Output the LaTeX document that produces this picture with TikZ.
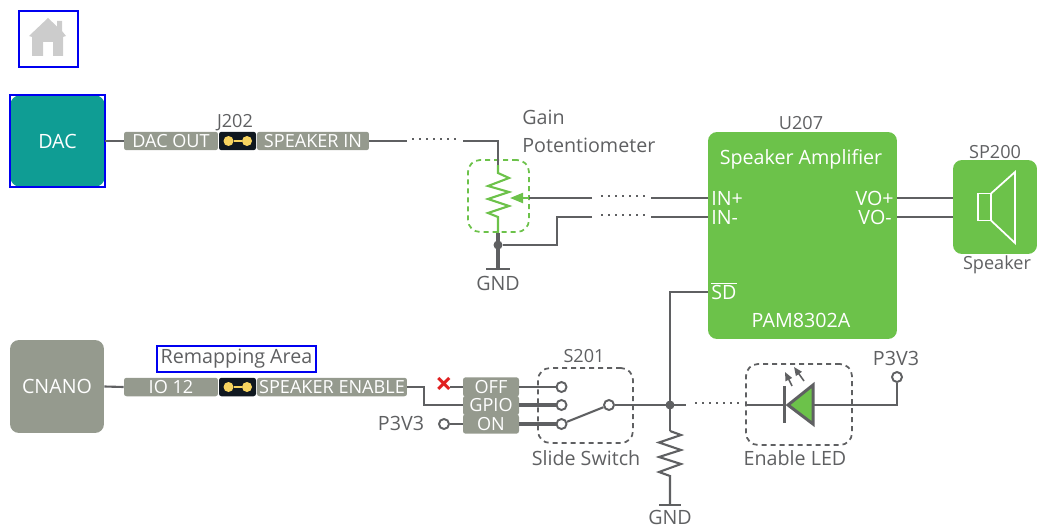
\documentclass[tikz,border=0pt]{standalone}
\usepackage{fontspec}
\setsansfont{Open Sans}
\usetikzlibrary{arrows.meta,calc,positioning}
\definecolor{BoardInk}{HTML}{5F6062}
\definecolor{BoardGray}{HTML}{959A8E}
\definecolor{BoardTeal}{HTML}{0F9D94}
\definecolor{BoardGreen}{HTML}{6CC24A}
\definecolor{BoardBlue}{HTML}{0000F0}
\definecolor{BoardBlack}{HTML}{101820}
\definecolor{BoardGold}{HTML}{F7D460}
\definecolor{BoardRed}{HTML}{E02020}
\definecolor{BoardHome}{HTML}{CCCCCC}
\tikzset{
  every node/.style={font=\sffamily\fontsize{11.2}{13}\selectfont, text=BoardInk},
  smalltext/.style={font=\sffamily\fontsize{10.3}{12}\selectfont},
  block/.style={rounded corners=0.18cm, inner sep=0pt, text=white},
  pill/.style={fill=BoardGray, rounded corners=0.05cm, inner sep=0pt, minimum height=0.37cm, text=white, smalltext},
  jumper/.style={fill=BoardBlack, rounded corners=0.05cm, inner sep=0pt, minimum width=0.74cm, minimum height=0.37cm},
  pad/.style={circle, fill=BoardGold, inner sep=0pt, minimum size=0.2cm},
  contact/.style={circle, draw=BoardInk, fill=white, line width=1.1pt, inner sep=0pt, minimum size=0.2cm},
  junction/.style={circle, fill=BoardInk, inner sep=0pt, minimum size=0.18cm},
  pinlabel/.style={inner sep=0pt, text=white},
  wire/.style={draw=BoardInk, line width=1.2pt},
  heavywire/.style={draw=BoardInk, line width=2pt},
  gapdots/.style={draw=BoardInk, line width=1.2pt, dash pattern=on 0.04cm off 0.1cm},
  groupbox/.style={draw=BoardInk, line width=1pt, dash pattern=on 0.1cm off 0.08cm, rounded corners=0.24cm, inner sep=0pt},
  linkbox/.style={draw=BoardBlue, line width=1.2pt, inner sep=0pt},
}
\begin{document}
\begin{tikzpicture}[x=0.02cm,y=-0.02cm]
  \useasboundingbox (0,0) rectangle (1037,527);
  % Home button
  \node[linkbox, minimum width=1.18cm, minimum height=1.12cm] (home) at (48.5,39) {};
  \fill[BoardHome] (48,18) -- (57,26.5) -- (57,21) -- (62,21) -- (62,31) -- (66,36) -- (63,37)
    -- (63,56) -- (53,56) -- (53,42) -- (43,42) -- (43,56) -- (32,56) -- (32,37) -- (29,36) -- cycle;

  % Source blocks
  \node[block, fill=BoardTeal, minimum width=1.88cm, minimum height=1.82cm] (dac) at (57.5,141) {DAC};
  \node[linkbox, minimum width=1.9cm, minimum height=1.84cm] (dacframe) at (57.5,141) {};
  \node[block, fill=BoardGray, minimum width=1.88cm, minimum height=1.86cm] (cnano) at (57,386.5) {CNANO};

  % Jumper rows
  \node[pill, minimum width=1.88cm] (dacout) at (171,141) {DAC OUT};
  \node[pill, minimum width=2.24cm] (spkin) at (313,141) {SPEAKER IN};
  \node[pill, minimum width=1.88cm] (iotwelve) at (171,387) {IO 12};
  \node[pill, minimum width=3.0cm] (spken) at (332,387) {SPEAKER ENABLE};
  \foreach \jname/\jy in {jpa/141,jpb/387}{
    \node[jumper] (\jname) at (237.5,\jy) {};
    \node[pad] (\jname l) at (228.5,\jy) {};
    \node[pad] (\jname r) at (247,\jy) {};
    \draw[draw=BoardGold, line width=1.4pt] (\jname l) -- (\jname r);
  }
  \node[smalltext] (jtwo) at (235,123) {J202};
  \node[linkbox, minimum width=3.18cm, minimum height=0.52cm] (remap) at (236.5,359) {Remapping Area};
  \draw[wire] (dac.east) -- (dacout.west);
  \draw[wire] (cnano.east) -- (iotwelve.west);

  % Gain potentiometer
  \node[align=left, anchor=north west, inner sep=0pt, text width=3cm,
    font=\sffamily\fontsize{11.2}{15.9}\selectfont] (gain) at (522,110) {Gain\\Potentiometer};
  \node[groupbox, draw=BoardGreen, minimum width=1.22cm, minimum height=1.44cm] (potbox) at (498.5,196) {};
  \coordinate (spkgapa) at (407,141);
  \coordinate (spkgapb) at (463,141);
  \coordinate (pottop) at (498,165);
  \coordinate (potwiper) at (510,198);
  \coordinate (potend) at (498,233);
  \draw[wire] (spkin.east) -- (spkgapa);
  \draw[gapdots] (412,139) -- (456,139);
  \draw[wire] (spkgapb) -| (pottop);
  \draw[draw=BoardGreen, line width=1.2pt, line join=miter] (pottop) -- (498,173) -- (509,178) -- (488,186)
    -- (509,192) -- (488,199) -- (509,206) -- (488,213) -- (498,217) -- (potend);
  \draw[draw=BoardGreen, line width=1.2pt, -{Stealth[inset=0pt,length=0.26cm,width=0.2cm]}] (529,198) -- (potwiper);
  \node[junction] (potdot) at (498,245) {};
  \coordinate (potgnd) at (498,269);
  \draw[heavywire] (potend) -- (potgnd);
  \draw[wire] ($(potgnd)+(-12,0)$) -- ($(potgnd)+(12,0)$);
  \node (gndpot) at (498,283) {GND};

  % Amplifier and speaker
  \node[block, fill=BoardGreen, minimum width=3.78cm, minimum height=4.14cm] (amp) at (802.5,235.5) {};
  \node[smalltext] (utwo) at (801,123) {U207};
  \node[pinlabel] (ampname) at (801,159.5) {Speaker Amplifier};
  \node[pinlabel] (amppart) at (801,320.5) {PAM8302A};
  \node[pinlabel, anchor=west] (inp) at (711,198) {IN+};
  \node[pinlabel, anchor=west] (inm) at (711,217) {IN-};
  \node[pinlabel, anchor=east] (vop) at (894,198) {VO+};
  \node[pinlabel, anchor=east] (vom) at (892,217) {VO-};
  \node[pinlabel, anchor=west] (sd) at (711,291) {$\overline{\mbox{SD}}$};
  \node[block, fill=BoardGreen, minimum width=1.68cm, minimum height=1.88cm] (spk) at (995,207) {};
  \node[smalltext] (sptwo) at (995,152) {SP200};
  \node[smalltext] (spklabel) at (997,265) {Speaker};
  \draw[draw=white, line width=1pt] (978,193.5) rectangle (991,220.5);
  \draw[draw=white, line width=1pt] (991,193.5) -- (1015,172) -- (1015,243) -- (991,220.5);
  \draw[wire] (amp.east |- 0,198) -- (spk.west |- 0,198);
  \draw[wire] (amp.east |- 0,217) -- (spk.west |- 0,217);

  % Potentiometer to amplifier inputs
  \coordinate (ingapa) at (592,198);
  \coordinate (ingapb) at (651,198);
  \coordinate (ingapc) at (592,217);
  \coordinate (ingapd) at (651,217);
  \draw[wire] (ingapa) -- (529,198);
  \draw[gapdots] (601,196) -- (646,196);
  \draw[wire] (ingapb) -- (amp.west |- ingapb);
  \draw[wire] (ingapc) -- (557,217) -- (557,245) -- (potdot);
  \draw[gapdots] (601,215) -- (646,215);
  \draw[wire] (ingapd) -- (amp.west |- ingapd);

  % Slide switch
  \node[pill, minimum width=1.12cm, minimum height=0.385cm] (off) at (491,387) {OFF};
  \node[pill, minimum width=1.12cm, minimum height=0.385cm] (gpio) at (491,405.5) {GPIO};
  \node[pill, minimum width=1.12cm, minimum height=0.385cm] (on) at (491,424) {ON};
  \node[groupbox, minimum width=1.9cm, minimum height=1.5cm] (swbox) at (585.5,405.5) {};
  \node[smalltext] (stwo) at (584,356) {S201};
  \node (swlabel) at (586,458) {Slide Switch};
  \node[contact] (swoff) at (561.5,387) {};
  \node[contact] (swgpio) at (561.5,405) {};
  \node[contact] (swon) at (561.5,424) {};
  \node[contact] (swpole) at (609,405) {};
  \node[contact] (pvon) at (444,424) {};
  \node (pvlabel) at (401,423) {P3V3};
  \node[text=BoardRed, font=\sffamily\bfseries\fontsize{17}{17}\selectfont, inner sep=0pt] (nocon) at (444,385.5) {×};
  \coordinate (remapbend) at (424,387);
  \coordinate (offstub) at (450,387);
  \draw[wire] (spken.east) -- (remapbend) -- (424,405) -- (gpio.west |- swgpio);
  \draw[wire] (offstub) -- (off.west);
  \draw[wire] (pvon) -- (on.west);
  \draw[wire] (off.east) -- (swoff);
  \draw[heavywire] (gpio.east |- swgpio) -- (swgpio);
  \draw[heavywire] (on.east) -- (swon);
  \draw[wire] (swon) -- (swpole);

  % Enable net
  \node[junction] (endot) at (670,405) {};
  \coordinate (engap) at (686,405);
  \coordinate (resin) at (670,431);
  \coordinate (resout) at (670,476);
  \coordinate (resgnd) at (670,505);
  \draw[wire] (swpole) -- (engap);
  \draw[wire] (amp.west |- 0,292) -- (670,292) -- (resin);
  \draw[wire, line join=miter] (resin) -- (681,435) -- (659,442.5) -- (681,450) -- (659,457) -- (681,464)
    -- (659,472) -- (resout) -- (resgnd);
  \draw[wire] ($(resgnd)+(-11,0)$) -- ($(resgnd)+(11,0)$);
  \node[inner sep=0pt] (gndres) at (670,517.5) {GND};

  % Enable LED
  \node[groupbox, minimum width=2.12cm, minimum height=1.62cm] (ledbox) at (799,404.5) {};
  \node (ledlabel) at (795,458) {Enable LED};
  \draw[gapdots] (695,403) -- (740,403);
  \coordinate (ledk) at (784,405);
  \coordinate (leda) at (813,405);
  \draw[wire] (ledbox.west |- ledk) -- (ledk);
  \draw[draw=BoardInk, line width=1.7pt] (784,386) -- (784,423);
  \draw[draw=BoardInk, fill=BoardGreen, line width=1.7pt, line join=miter] (788,405) -- (813,385) -- (813,424) -- cycle;
  \node[contact] (pvled) at (897,377) {};
  \node (pvledlabel) at (896,358) {P3V3};
  \draw[wire] (leda) -- (897,405) -- (pvled);
  \draw[draw=BoardInk, line width=0.9pt, -{Stealth[inset=0pt,length=0.17cm,width=0.14cm]}] (792,386) -- (785,372);
  \draw[draw=BoardInk, line width=0.9pt, -{Stealth[inset=0pt,length=0.17cm,width=0.14cm]}] (804,381) -- (794,367);
\end{tikzpicture}
\end{document}
